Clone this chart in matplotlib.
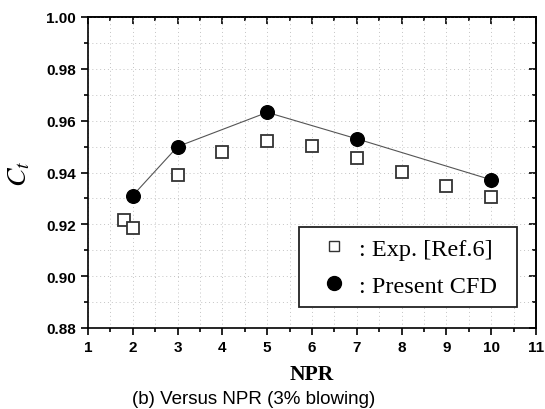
import matplotlib.pyplot as plt
from matplotlib import font_manager
from matplotlib.lines import Line2D
from matplotlib.ticker import MultipleLocator, FormatStrFormatter

# experiment [Ref.6]
exp_npr = [1.8, 2, 3, 4, 5, 6, 7, 8, 9, 10]
exp_ct = [0.9215, 0.9185, 0.9391, 0.9479, 0.9523, 0.9503, 0.9456, 0.9402, 0.9349, 0.9307]

# present CFD
cfd_npr = [2, 3, 5, 7, 10]
cfd_ct = [0.9311, 0.9500, 0.9632, 0.9530, 0.9372]

W, H = 545, 410
fig = plt.figure(figsize=(W / 100, H / 100), dpi=100)
ax = fig.add_axes([88 / W, 1 - 329 / H, 448 / W, 311 / H])

ax.plot(cfd_npr, cfd_ct, color="#555555", linewidth=0.8, zorder=2)
ax.plot(exp_npr, exp_ct, linestyle="", marker="s", markersize=8.3,
        markerfacecolor="white", markeredgecolor="#333333", markeredgewidth=1.3,
        zorder=3)
ax.plot(cfd_npr, cfd_ct, linestyle="", marker="o", markersize=9.8,
        color="black", zorder=4)

ax.set_xlim(1, 11)
ax.set_ylim(0.88, 1.00)
ax.xaxis.set_major_locator(MultipleLocator(1))
ax.xaxis.set_minor_locator(MultipleLocator(0.5))
ax.yaxis.set_major_locator(MultipleLocator(0.02))
ax.yaxis.set_minor_locator(MultipleLocator(0.01))
ax.yaxis.set_major_formatter(FormatStrFormatter("%.2f"))

ax.grid(True, which="both", linestyle=(0, (1, 3)), color="#c4c4c4", linewidth=0.7)
ax.set_axisbelow(True)

ax.tick_params(which="both", direction="out", width=1.2, top=False, right=False)
ax.tick_params(which="major", length=5, labelsize=11)
ax.tick_params(which="minor", length=3)
for lab in ax.get_xticklabels() + ax.get_yticklabels():
    lab.set_fontweight("bold")
    lab.set_family("Liberation Sans")

# inward ticks on top and right
ax_t = ax.secondary_xaxis("top")
ax_t.xaxis.set_major_locator(MultipleLocator(1))
ax_t.xaxis.set_minor_locator(MultipleLocator(0.5))
ax_t.tick_params(which="both", direction="in", labeltop=False, width=1.2)
ax_t.tick_params(which="major", length=5)
ax_t.tick_params(which="minor", length=3)
ax_r = ax.secondary_yaxis("right")
ax_r.yaxis.set_major_locator(MultipleLocator(0.02))
ax_r.yaxis.set_minor_locator(MultipleLocator(0.01))
ax_r.tick_params(which="both", direction="in", labelright=False, width=1.2)
ax_r.tick_params(which="major", length=5)
ax_r.tick_params(which="minor", length=3)

for sp in ax.spines.values():
    sp.set_linewidth(1.2)
ax_t.spines["top"].set_linewidth(1.2)
ax_r.spines["right"].set_linewidth(1.2)

ax.set_xlabel("NPR", family="Liberation Serif", fontweight="bold", fontsize=15.5, labelpad=7)
ax.set_ylabel(r"$\mathbf{\mathit{C_t}}$", fontsize=20, labelpad=10,
              math_fontfamily="stix")

# legend with its own (smaller) handles
handles = [
    Line2D([], [], linestyle="", marker="s", markersize=7.5, markerfacecolor="white",
           markeredgecolor="#333333", markeredgewidth=1.0),
    Line2D([], [], linestyle="", marker="o", markersize=10, color="black"),
]
leg = ax.legend(handles, [": Exp. [Ref.6]", ": Present CFD"],
                loc="lower left", bbox_to_anchor=(0.471, 0.0675, 0.4866, 0.26),
                mode="expand",
                prop={"family": "Liberation Serif", "size": 17.5},
                frameon=True, fancybox=False, edgecolor="#222222", framealpha=1,
                handlelength=2.0, handletextpad=0.05, borderpad=0.42,
                labelspacing=0.62, borderaxespad=0)
leg.get_frame().set_linewidth(1.3)

# caption: narrow sans if present
try:
    font_manager.findfont("Liberation Sans Narrow", fallback_to_default=False)
    cap_font, cap_size = "Liberation Sans Narrow", 16.5
except ValueError:
    cap_font, cap_size = "Liberation Sans", 13.5
fig.text(254 / W, 6 / H, "(b) Versus NPR (3% blowing)", ha="center", va="baseline",
         family=cap_font, fontsize=cap_size)

fig.savefig("out.png", dpi=100)
